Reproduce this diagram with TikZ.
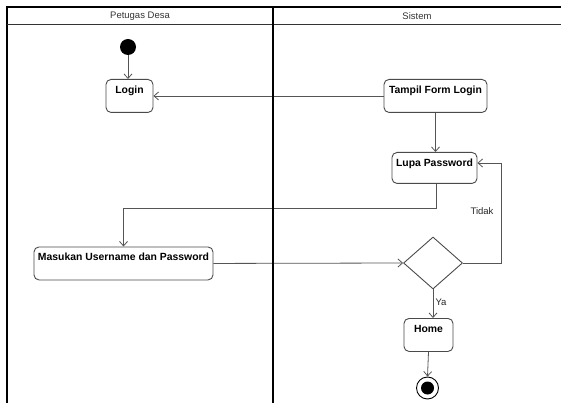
\documentclass[tikz,border=0pt]{standalone}
\usepackage{fontspec}
\setmainfont{Liberation Sans}
\usetikzlibrary{arrows.meta,shapes.geometric,calc}
\definecolor{boxline}{HTML}{4A4A4A}
\definecolor{conn}{HTML}{555555}
\begin{document}
\begin{tikzpicture}[x=1pt,y=-1pt,
  lane/.style={line width=1.6pt,black},
  act/.style={draw=boxline,line width=0.9pt,rounded corners=5pt,fill=white,
    font=\fontsize{10.4}{12}\selectfont\bfseries,inner xsep=0pt,inner ysep=4pt,
    text height=10pt,text depth=15pt,anchor=north},
  flow/.style={draw=conn,line width=0.8pt,-{Straight Barb[length=4.5pt,width=8pt]}},
  lbl/.style={font=\fontsize{9.5}{11}\selectfont,text=black!85}]
\useasboundingbox (0,0) rectangle (561,403);
\fill[white] (0,0) rectangle (561,403);
\node[font=\fontsize{9.5}{11}\selectfont,text=black!80] (h1) at (140,16) {Petugas Desa};
\node[font=\fontsize{9.5}{11}\selectfont,text=black!80] (h2) at (417,16) {Sistem};
% nodes
\node[circle,fill=black,minimum size=16pt,inner sep=0pt] (start) at (128,47) {};
\node[act,minimum width=47pt] (login) at (129.5,79) {Login};
\node[act,minimum width=103pt] (tampil) at (435.5,79) {Tampil Form Login};
\node[act,minimum width=85pt,text depth=13pt] (lupa) at (434.5,152) {Lupa Password};
\node[act,minimum width=179pt] (masukan) at (123.5,246.5) {Masukan Username dan Password};
\node[diamond,draw=boxline,line width=0.9pt,fill=white,minimum width=59pt,minimum height=52pt,inner sep=0pt] (dia) at (433,263) {};
\node[act,minimum width=49pt] (home) at (428.5,318) {Home};
\node[circle,draw=black,line width=0.9pt,minimum size=22pt,inner sep=0pt] (final) at (427.5,388) {};
\node[circle,fill=black,minimum size=13pt,inner sep=0pt] (finalin) at (final.center) {};
% connectors
\draw[flow] (start) -- (start |- login.north);
\draw[flow] (tampil.west) -- (login.east);
\draw[flow] (tampil.south) -- (tampil.south |- lupa.north);
\coordinate (turn1) at (436,208);
\draw[flow] (lupa.south -| turn1) -- (turn1) -| (masukan.north);
\draw[flow] (masukan.east) -- (dia.west);
\coordinate (loopc) at (501,163);
\draw[flow] (dia.east) -| (loopc) -- (lupa.east |- loopc);
\draw[flow] (dia.south) -- (dia.south |- home.north);
\draw[flow] (home.south) -- (final.north);
\node[lbl] (tidak) at (482,211) {Tidak};
\node[lbl] (ya) at (441,302) {Ya};
% swimlanes (on top)
\draw[lane] (561,7) -- (7,7) -- (7,403.5);
\draw[line width=1pt,black!80] (7,25) -- (561,25);
\draw[lane] (273,7) -- (273,403.5);
\end{tikzpicture}
\end{document}
